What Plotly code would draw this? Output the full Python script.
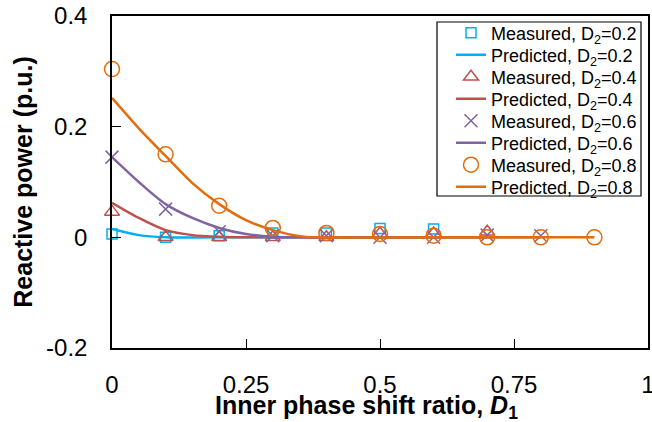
import plotly.graph_objects as go

# Measured data
x_meas_02 = [0, 0.1, 0.2, 0.3, 0.4, 0.5, 0.6]
y_meas_02 = [0.006, 0.0, 0.003, 0.008, 0.008, 0.016, 0.015]
x_meas_04 = [0, 0.1, 0.2, 0.3, 0.4, 0.5, 0.6, 0.7]
y_meas_04 = [0.046, 0.0, 0.0, 0.0, 0.0, 0.007, 0.007, 0.01]
x_meas_06 = [0, 0.1, 0.2, 0.3, 0.4, 0.5, 0.6, 0.7, 0.8]
y_meas_06 = [0.145, 0.051, 0.01, 0.003, 0.003, 0.0, 0.0, 0.004, 0.003]
x_meas_08 = [0, 0.1, 0.2, 0.3, 0.4, 0.5, 0.6, 0.7, 0.8, 0.9]
y_meas_08 = [0.304, 0.150, 0.057, 0.017, 0.008, 0.006, 0.003, 0.0, 0.0, 0.0]

# Predicted curves
x_pred_02 = [0, 0.05, 0.1, 0.2, 0.4, 0.6]
y_pred_02 = [0.015, 0.004, 0.0, 0.0, 0.0, 0.0]
x_pred_04 = [0, 0.05, 0.1, 0.15, 0.2, 0.25, 0.4, 0.7]
y_pred_04 = [0.0625, 0.035, 0.013, 0.004, 0.001, 0.0, 0.0, 0.0]
x_pred_06 = [0, 0.05, 0.1, 0.15, 0.2, 0.25, 0.3, 0.34, 0.5, 0.8]
y_pred_06 = [0.145, 0.10, 0.06, 0.035, 0.017, 0.006, 0.001, 0.0, 0.0, 0.0]
x_pred_08 = [0, 0.05, 0.1, 0.15, 0.2, 0.25, 0.3, 0.35, 0.38, 0.6, 0.9]
y_pred_08 = [0.252, 0.197, 0.147, 0.098, 0.06, 0.031, 0.013, 0.002, 0.0, 0.0, 0.0]

labels_d2 = ["0.2", "0.4", "0.6", "0.8"]
colors = ["#00B0F0", "#C0504D", "#8064A2", "#E46C0A"]
symbols = ["square-open", "triangle-up-open", "x-thin-open", "circle-open"]
sizes = [10, 13, 13, 15]

x_ticks = [0, 0.25, 0.5, 0.75, 1]
x_ticktext = ["0", "0.25", "0.5", "0.75", "1"]
y_ticks = [-0.2, 0, 0.2, 0.4]
y_ticktext = ["-0.2", "0", "0.2", "0.4"]
x_title = "<b>Inner phase shift ratio, <i>D</i><sub>1</sub></b>"
y_title = "<b>Reactive power (p.u.)</b>"

meas = [(x_meas_02, y_meas_02), (x_meas_04, y_meas_04), (x_meas_06, y_meas_06), (x_meas_08, y_meas_08)]
pred = [(x_pred_02, y_pred_02), (x_pred_04, y_pred_04), (x_pred_06, y_pred_06), (x_pred_08, y_pred_08)]

font_family = "Liberation Sans, Arial, sans-serif"

# layout geometry (pixels)
W, H = 652, 422
ML, MR, MT, MB = 112, 4, 16, 74
PW, PH = W - ML - MR, H - MT - MB
row_top, row_gap = 33, 22
leg_left = 451

def px_to_paper_x(px):
    return (px - ML) / PW

def px_to_paper_y(py):
    return 1 - (py - MT) / PH

fig = go.Figure()
legend_layouts = {}
k = 0
for i in range(4):
    mx, my = meas[i]
    px, py = pred[i]
    for kind in ("meas", "pred"):
        lname = "legend" if k == 0 else f"legend{k+1}"
        if kind == "meas":
            fig.add_trace(go.Scatter(
                x=mx, y=my, mode="markers", cliponaxis=False, legend=lname,
                name=f"Measured, D<sub>2</sub>={labels_d2[i]}",
                marker=dict(symbol=symbols[i], size=sizes[i], color=colors[i],
                            line=dict(color=colors[i], width=1.5)),
            ))
        else:
            fig.add_trace(go.Scatter(
                x=px, y=py, mode="lines", cliponaxis=False, legend=lname,
                name=f"Predicted, D<sub>2</sub>={labels_d2[i]}",
                line=dict(color=colors[i], width=2.5, shape="spline", smoothing=0.8),
            ))
        legend_layouts[lname] = dict(
            x=px_to_paper_x(leg_left), y=px_to_paper_y(row_top + row_gap * k),
            xanchor="left", yanchor="middle",
            bgcolor="rgba(0,0,0,0)", borderwidth=0,
            font=dict(size=18, family=font_family),
            itemwidth=30,
        )
        k += 1

fig.update_layout(
    width=W, height=H,
    margin=dict(l=ML, r=MR, t=MT, b=MB, autoexpand=False),
    plot_bgcolor="white", paper_bgcolor="white",
    font=dict(family=font_family, color="black"),
    showlegend=True,
    shapes=[dict(type="rect", xref="paper", yref="paper",
                 x0=px_to_paper_x(437), x1=px_to_paper_x(641),
                 y0=px_to_paper_y(196), y1=px_to_paper_y(22),
                 line=dict(color="black", width=1.2), fillcolor="white",
                 layer="above")],
    annotations=[dict(text=x_title, xref="paper", yref="paper",
                      x=px_to_paper_x(366), y=px_to_paper_y(407),
                      xanchor="center", yanchor="middle", showarrow=False,
                      font=dict(size=25, family=font_family, color="black"))],
    xaxis=dict(
        range=[0, 1], tickvals=x_ticks, ticktext=x_ticktext, automargin=False,
        ticks="inside", ticklen=9, tickwidth=1.2, tickcolor="black",
        showline=True, linecolor="black", linewidth=1.5, mirror=True,
        showgrid=False, zeroline=False, ticklabeloverflow="allow",
        tickfont=dict(size=24), ticklabelstandoff=14,
    ),
    yaxis=dict(
        range=[-0.2, 0.4], tickvals=y_ticks, ticktext=y_ticktext, automargin=False,
        ticks="inside", ticklen=9, tickwidth=1.2, tickcolor="black",
        showline=True, linecolor="black", linewidth=1.5, mirror=True,
        showgrid=False, zeroline=False,
        tickfont=dict(size=24), ticklabelstandoff=18,
        title=dict(text=y_title, font=dict(size=25), standoff=6),
    ),
    **legend_layouts,
)

fig.write_html("out.html")
